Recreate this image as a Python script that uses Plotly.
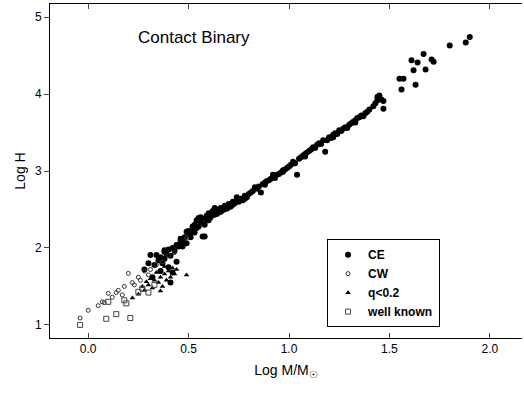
import plotly.graph_objects as go

# ---- data ----
ce_x = [0.28, 0.30, 0.31, 0.34, 0.38, 0.33, 0.35, 0.36, 0.37, 0.38, 0.39, 0.40, 0.41, 0.42, 0.43,
        0.44, 0.45, 0.46, 0.47, 0.47, 0.48, 0.49, 0.50, 0.50, 0.51, 0.52, 0.53, 0.53, 0.54, 0.55,
        0.56, 0.57, 0.57, 0.58, 0.59, 0.60, 0.60, 0.61, 0.62, 0.63, 0.64, 0.65, 0.66, 0.67, 0.68,
        0.69, 0.70, 0.71, 0.72, 0.73, 0.74, 0.75, 0.76, 0.77, 0.78, 0.79, 0.80, 0.81, 0.82, 0.84,
        0.85, 0.86, 0.87, 0.88, 0.89, 0.90, 0.91, 0.92, 0.93, 0.94, 0.95, 0.96, 0.97, 0.98, 0.99,
        1.00, 1.01, 1.02, 1.03, 1.04, 1.05, 1.06, 1.07, 1.08, 1.09, 1.10, 1.11, 1.12, 1.13, 1.14,
        1.15, 1.16, 1.17, 1.18, 1.19, 1.20, 1.21, 1.22, 1.23, 1.24, 1.25, 1.26, 1.27, 1.28, 1.29,
        1.30, 1.31, 1.32, 1.33, 1.34, 1.35, 1.36, 1.37, 1.38, 1.39, 1.40, 1.42, 1.43, 1.44, 1.44,
        1.46, 1.47, 1.47, 1.45, 0.55, 0.58, 0.49, 0.38, 0.32, 0.36, 0.40, 0.42, 0.44, 0.41,
        0.52, 0.56, 0.63, 0.66, 0.70, 0.74, 0.83, 0.92,
        0.46, 0.48, 0.51, 0.54, 0.59, 0.61, 0.64, 0.68, 0.72, 0.78, 0.88, 0.97, 1.08, 1.22, 1.33,
        1.55, 1.57, 1.56, 1.63, 1.62, 1.68, 1.61, 1.64, 1.71, 1.72, 1.67, 1.80, 1.88, 1.90]
ce_y = [1.72, 1.80, 1.91, 1.91, 1.95, 1.78, 1.84, 1.88, 1.80, 1.86, 1.92, 1.98, 1.90, 2.00, 1.96,
        2.04, 2.02, 2.08, 2.10, 2.02, 2.14, 2.06, 2.18, 2.22, 2.14, 2.25, 2.20, 2.30, 2.36, 2.28,
        2.33, 2.15, 2.38, 2.30, 2.42, 2.36, 2.45, 2.40, 2.48, 2.43, 2.50, 2.46, 2.52, 2.49, 2.55,
        2.51, 2.57, 2.54, 2.60, 2.58, 2.62, 2.60, 2.64, 2.62, 2.68, 2.66, 2.70, 2.72, 2.74, 2.77,
        2.80, 2.72, 2.83, 2.85, 2.87, 2.88, 2.90, 2.92, 2.91, 2.95, 2.96, 2.98, 2.99, 3.02, 3.04,
        3.06, 3.08, 3.12, 3.10, 2.95, 3.16, 3.18, 3.20, 3.22, 3.24, 3.26, 3.28, 3.31, 3.30, 3.34,
        3.36, 3.35, 3.40, 3.25, 3.40, 3.44, 3.43, 3.47, 3.49, 3.48, 3.53, 3.52, 3.55, 3.57, 3.56,
        3.60, 3.62, 3.64, 3.66, 3.69, 3.70, 3.72, 3.71, 3.75, 3.77, 3.80, 3.84, 3.88, 3.92, 3.96,
        3.93, 3.91, 3.81, 3.98, 2.39, 2.15, 2.21, 1.97, 1.62, 1.70, 1.75, 1.68, 1.82, 1.55,
        2.28, 2.40, 2.52, 2.47, 2.53, 2.66, 2.79, 2.95,
        2.12, 2.06, 2.20, 2.26, 2.36, 2.44, 2.44, 2.51, 2.56, 2.64, 2.82, 3.01, 3.19, 3.44, 3.63,
        4.20, 4.20, 4.06, 4.12, 4.31, 4.32, 4.44, 4.41, 4.45, 4.42, 4.52, 4.63, 4.67, 4.74]

cw_x = [-0.04, 0.00, 0.07, 0.08, 0.10, 0.17, 0.20, 0.49, 0.05, 0.12, 0.15, 0.18, 0.22, 0.25,
        0.28, 0.31, 0.34, 0.37, 0.40, 0.43, 0.26, 0.30, 0.14, 0.23]
cw_y = [1.09, 1.19, 1.30, 1.29, 1.41, 1.39, 1.67, 2.13, 1.25, 1.36, 1.45, 1.50, 1.55, 1.62,
        1.70, 1.72, 1.78, 1.82, 1.90, 1.94, 1.58, 1.65, 1.42, 1.52]

q_x = [0.22, 0.49, 0.28, 0.30, 0.32, 0.33, 0.35, 0.36, 0.37, 0.38, 0.39, 0.40, 0.41, 0.42,
       0.43, 0.34, 0.31, 0.29, 0.27, 0.36, 0.25, 0.44, 0.38]
q_y = [1.35, 1.65, 1.45, 1.52, 1.48, 1.58, 1.55, 1.62, 1.50, 1.66, 1.58, 1.70, 1.62, 1.74,
       1.66, 1.68, 1.60, 1.56, 1.50, 1.44, 1.40, 1.72, 1.76]

wk_x = [-0.04, 0.09, 0.14, 0.21, 0.19, 0.10, 0.25, 0.30, 0.18, 0.27, 0.33]
wk_y = [1.00, 1.08, 1.14, 1.09, 1.28, 1.30, 1.43, 1.42, 1.32, 1.47, 1.52]

x_ticks = [0.0, 0.5, 1.0, 1.5, 2.0]
y_ticks = [1, 2, 3, 4, 5]

fig = go.Figure()
fig.add_trace(go.Scatter(x=ce_x, y=ce_y, mode="markers", name="CE",
                         marker=dict(symbol="circle", size=6, color="black")))
fig.add_trace(go.Scatter(x=cw_x, y=cw_y, mode="markers", name="CW",
                         marker=dict(symbol="circle-open", size=4, color="#333",
                                     line=dict(width=1))))
fig.add_trace(go.Scatter(x=q_x, y=q_y, mode="markers", name="q<0.2",
                         marker=dict(symbol="triangle-up", size=5, color="black")))
fig.add_trace(go.Scatter(x=wk_x, y=wk_y, mode="markers", name="well known",
                         marker=dict(symbol="square-open", size=5, color="#444",
                                     line=dict(width=1))))

fig.add_annotation(x=0.24, y=4.73, xref="x", yref="y", text="Contact Binary",
                   showarrow=False, xanchor="left", yanchor="middle",
                   font=dict(size=17, color="black"))

fig.update_layout(
    width=524, height=394,
    margin=dict(l=50, r=2, t=4, b=56),
    paper_bgcolor="white", plot_bgcolor="white",
    font=dict(family="Arial, Liberation Sans, sans-serif", size=12, color="black"),
    showlegend=True,
    legend=dict(x=0.587, y=0.296, xanchor="left", yanchor="top",
                bordercolor="black", borderwidth=1, bgcolor="white",
                font=dict(size=12, color="black", weight="bold"),
                tracegroupgap=0, itemsizing="trace", entrywidth=96),
    xaxis=dict(range=[-0.19, 2.16], tickvals=x_ticks, tickformat=".1f",
               ticks="inside", ticklen=5, showline=True, linecolor="black",
               linewidth=1, mirror="ticks", showgrid=False, zeroline=False,
               title=dict(text="Log M/M<sub>☉</sub>", standoff=9, font=dict(size=14)),
               tickfont=dict(size=12)),
    yaxis=dict(range=[0.83, 5.17], tickvals=y_ticks,
               ticks="outside", ticklen=5, showline=True, linecolor="black",
               linewidth=1, showgrid=False, zeroline=False,
               title=dict(text="Log H", standoff=6, font=dict(size=14)),
               tickfont=dict(size=12)),
)

fig.write_html("out.html")
